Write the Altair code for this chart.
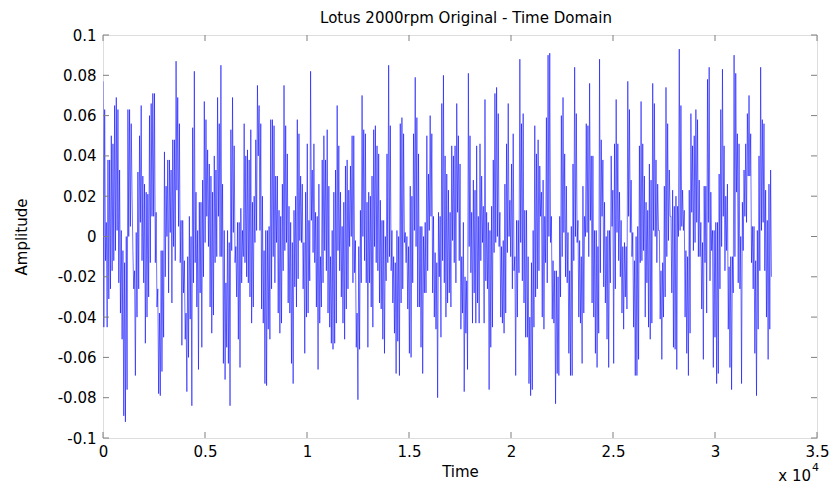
import altair as alt
import pandas as pd
import numpy as np

# Amplitude extremes, stroke by stroke (peak, then trough)
seg1_peaks = [0.077,0.063,0.007,0.038,0.038,0.050,0.046,0.065,0.069,0.063,0.033,0.003,-0.007,-0.013,0.000,0.063,0.063,0.056,-0.007,-0.017,0.002,0.032,0.050,0.065,0.030,0.026,0.022,0.021,0.060,0.066,0.071,0.071,0.012,-0.026,-0.038,-0.007,-0.007,0.042,0.025,0.038,0.038,0.033,0.048,0.048,0.087,0.069,0.056,0.008]
seg1_troughs = [-0.045,-0.012,-0.045,-0.031,-0.026,-0.017,-0.012,-0.007,0.003,-0.023,-0.038,-0.051,-0.089,-0.092,-0.076,0.000,0.005,0.020,-0.026,-0.069,-0.040,-0.026,0.007,-0.012,-0.023,-0.053,-0.040,-0.030,-0.013,0.010,0.010,-0.013,-0.035,-0.078,-0.079,-0.067,-0.050,-0.020,0.000,-0.028,0.002,-0.033,-0.005,-0.012,0.023,0.005,-0.013,-0.054]

seg2_peaks = [0.008,-0.012,-0.038,-0.010,0.010,0.000,0.054,0.082,0.022,0.003,0.017,0.017,0.028,0.067,0.058,0.043,0.036,0.030,0.022,0.040,0.033,0.069,0.056,0.085,0.026,0.003,-0.023,0.003,-0.003,0.053,0.069,0.045,-0.005,0.007,0.007,0.014,0.003,0.056,0.040,0.043,0.038,0.053,0.017,0.020,0.048,0.075,0.065,0.056,0.020,-0.007,0.003,0.003]
seg2_troughs = [-0.028,-0.051,-0.077,-0.060,-0.041,-0.084,-0.023,-0.013,-0.035,-0.066,-0.028,-0.055,-0.020,-0.003,0.010,-0.005,-0.035,-0.048,-0.039,-0.013,-0.010,0.010,-0.010,-0.010,-0.063,-0.071,-0.055,-0.063,-0.084,-0.007,0.002,-0.013,-0.030,-0.051,-0.065,-0.023,-0.010,-0.013,-0.020,-0.023,-0.030,-0.043,-0.035,-0.003,0.003,0.040,0.003,-0.036,-0.043,-0.073,-0.074,-0.046]

seg3_peaks = [0.005,0.058,0.058,0.055,0.030,0.030,0.013,0.010,0.026,0.075,0.055,0.041,0.015,0.007,-0.003,0.013,0.020,0.058,0.051,0.030,0.026,-0.003,0.022,0.046,0.008,0.082,0.033,0.046,0.012,0.010,0.026,-0.010,0.038,0.050,0.038,0.053,0.025,-0.010,0.003,0.022,0.033,0.065,0.045,0.022,0.005,0.017,0.035,0.038,0.023,0.035,0.050]
seg3_troughs = [-0.051,-0.026,-0.010,-0.023,-0.003,-0.038,-0.048,-0.043,-0.017,-0.007,-0.003,-0.033,-0.038,-0.063,-0.073,-0.025,-0.035,-0.021,-0.002,-0.003,-0.026,-0.058,-0.040,-0.038,-0.022,0.008,-0.008,-0.013,-0.035,-0.066,-0.043,-0.035,-0.023,-0.007,-0.017,-0.038,-0.045,-0.053,-0.056,-0.053,-0.043,-0.007,-0.017,-0.030,-0.043,-0.051,-0.036,-0.026,-0.005,0.000,-0.023]

seg4_peaks = [0.050,-0.002,-0.038,-0.005,0.013,0.070,0.053,0.051,0.017,0.022,0.020,0.030,0.053,0.055,0.045,0.041,0.018,0.008,0.008,0.000,0.041,0.085,0.055,0.003,-0.010,-0.013,0.003,0.000,0.056,0.059,0.051,0.002,0.000,-0.005,0.025,0.020,0.051,0.079,0.059,0.041,0.005,0.005,0.000,0.007,0.050,0.031,0.060,0.051,0.010,-0.008,-0.013,0.012]
seg4_troughs = [-0.018,-0.055,-0.081,-0.056,-0.023,0.000,-0.012,-0.023,-0.055,-0.023,-0.035,-0.045,-0.005,-0.013,-0.017,-0.033,-0.036,-0.051,-0.058,-0.022,-0.013,-0.010,-0.017,-0.033,-0.048,-0.068,-0.052,-0.069,-0.033,-0.026,-0.003,-0.013,-0.036,-0.058,-0.060,-0.023,0.003,-0.005,-0.035,-0.035,-0.055,-0.068,-0.028,-0.028,-0.017,0.003,0.010,-0.028,-0.040,-0.046,-0.080,-0.020]

seg5_peaks = [0.010,0.066,0.080,0.040,0.031,0.023,0.012,0.045,0.040,0.045,0.066,0.050,0.036,-0.010,0.007,-0.020,-0.022,0.081,0.050,0.012,0.028,0.023,0.045,0.010,0.046,0.030,0.015,0.068,0.012,0.007,0.003,0.015,0.038,0.071,0.074,0.061,0.012,-0.005,-0.002,0.026,0.046,0.066,0.018,0.036,0.051,-0.010,0.008,0.008,0.088,0.056,0.061,0.013]
seg5_troughs = [-0.050,-0.012,-0.023,-0.040,-0.033,-0.028,-0.035,-0.002,-0.013,-0.023,0.012,-0.012,-0.046,-0.038,-0.077,-0.048,-0.066,-0.005,-0.018,-0.043,-0.028,-0.043,-0.033,-0.043,-0.012,-0.003,-0.043,-0.022,-0.026,-0.076,-0.055,-0.045,-0.008,-0.003,0.000,-0.005,-0.040,-0.043,-0.048,-0.038,-0.008,0.000,-0.010,-0.026,-0.017,-0.069,-0.040,-0.018,-0.003,-0.022,-0.033,-0.050]

seg6_peaks = [0.013,-0.010,-0.040,-0.013,0.003,0.055,0.041,0.048,0.035,0.022,0.028,0.010,0.059,0.090,0.091,0.010,-0.012,-0.017,-0.017,-0.020,0.010,0.060,0.069,0.041,0.025,0.002,-0.017,0.005,0.036,0.084,0.061,0.008,-0.002,-0.010,0.025,0.010,0.056,0.055,0.076,0.040,0.040,0.003,0.003,-0.005,0.088,0.048,0.038,0.017,0.000,0.003,0.003,0.040]
seg6_troughs = [-0.050,-0.073,-0.079,-0.076,-0.045,-0.030,-0.026,-0.017,0.010,-0.040,-0.046,-0.013,-0.023,0.000,-0.003,-0.041,-0.043,-0.083,-0.068,-0.069,-0.030,-0.010,0.002,-0.020,-0.023,-0.058,-0.069,-0.069,-0.012,0.000,-0.003,-0.040,-0.043,-0.063,-0.038,0.000,0.002,-0.010,0.008,-0.033,-0.040,-0.058,-0.065,-0.048,-0.018,0.010,-0.025,-0.033,-0.051,-0.065,-0.023,0.005]

seg7_peaks = [0.023,0.046,0.068,0.046,0.022,0.008,-0.005,-0.003,-0.005,0.077,0.063,0.028,0.002,-0.012,0.000,0.005,0.045,0.067,0.046,0.030,0.017,0.013,0.036,0.028,0.076,0.066,0.038,0.026,0.003,-0.017,-0.013,0.025,0.074,0.056,0.033,0.010,0.023,0.015,0.020,0.015,0.093,0.065,0.023,0.013,-0.007,-0.010,0.023,0.061,0.045,0.050,0.063,0.058]
seg7_troughs = [-0.063,-0.026,0.002,-0.012,-0.020,-0.038,-0.046,-0.030,-0.036,0.010,0.002,-0.010,-0.045,-0.069,-0.069,-0.061,-0.013,-0.012,-0.007,-0.040,-0.023,-0.045,-0.051,-0.043,0.003,0.000,-0.013,0.003,-0.041,-0.061,-0.040,-0.030,-0.010,-0.002,0.010,-0.028,-0.055,-0.056,-0.066,0.000,0.003,0.005,0.003,-0.040,-0.058,-0.069,-0.048,0.012,-0.007,-0.003,0.007,-0.010]

seg8_peaks = [0.028,0.007,-0.003,0.025,0.025,0.078,0.084,0.022,0.003,0.003,0.007,0.007,0.031,0.063,0.083,0.045,0.020,0.026,-0.015,-0.010,-0.010,0.090,0.081,0.051,0.046,0.000,0.017,0.033,0.046,0.061,0.070,0.051,0.005,0.005,-0.012,0.003,0.040,0.084,0.058,0.056,0.023,0.008,0.026,0.033]
seg8_troughs = [-0.010,-0.036,-0.061,-0.013,-0.038,0.007,-0.022,-0.007,-0.065,-0.050,-0.073,-0.068,-0.026,-0.005,0.010,-0.017,-0.007,-0.046,-0.065,-0.076,-0.028,-0.010,0.022,-0.023,-0.026,-0.073,-0.007,0.010,0.007,0.030,0.030,-0.013,-0.026,-0.058,-0.079,-0.046,-0.017,0.003,0.007,-0.017,-0.040,-0.061,-0.046,-0.020]

x_ticks = [0, 5000, 10000, 15000, 20000, 25000, 30000, 35000]
y_ticks = [-0.1, -0.08, -0.06, -0.04, -0.02, 0, 0.02, 0.04, 0.06, 0.08, 0.1]
last_sample = 32767

segments = [(seg1_peaks, seg1_troughs), (seg2_peaks, seg2_troughs),
            (seg3_peaks, seg3_troughs), (seg4_peaks, seg4_troughs),
            (seg5_peaks, seg5_troughs), (seg6_peaks, seg6_troughs),
            (seg7_peaks, seg7_troughs), (seg8_peaks, seg8_troughs)]
amp = []
for pk, tr in segments:
    for a, b in zip(pk, tr):
        amp += [a, b]
time = np.linspace(0, last_sample, len(amp))
df = pd.DataFrame({"time": time, "amp": amp})

FONT = "DejaVu Sans"
GRAY = "#7f7f7f"
W, H = 714, 403

xscale = alt.Scale(domain=[0, 35000], nice=False, zero=False)
yscale = alt.Scale(domain=[-0.1, 0.1], nice=False, zero=False)

x_axis = alt.Axis(values=x_ticks, labelExpr="datum.value / 10000",
                  ticks=False, domain=False, grid=False,
                  labelFont=FONT, labelFontSize=15, labelColor="black",
                  labelPadding=6, labelFlush=False,
                  title="Time", titleFont=FONT, titleFontSize=15,
                  titleFontWeight="normal", titleColor="black",
                  titleY=33, titleBaseline="middle")
y_axis = alt.Axis(values=y_ticks, labelExpr="'' + datum.value",
                  ticks=False, domain=False, grid=False,
                  labelFont=FONT, labelFontSize=15, labelColor="black",
                  labelPadding=7, labelFlush=False,
                  title="Amplitude", titleFont=FONT, titleFontSize=15,
                  titleFontWeight="normal", titleColor="black",
                  titleX=-82, titleY=H / 2, titleAngle=-90,
                  titleAlign="center", titleBaseline="middle")

line = alt.Chart(df).mark_line(color="#0000ff", strokeWidth=0.7, opacity=0.8, clip=True).encode(
    x=alt.X("time:Q", scale=xscale, axis=x_axis, title="Time"),
    y=alt.Y("amp:Q", scale=yscale, axis=y_axis, title="Amplitude"),
)

xt = pd.DataFrame({"time": x_ticks})
yt = pd.DataFrame({"amp": y_ticks})
tick_len = 6
bottom_ticks = alt.Chart(xt).mark_rule(color=GRAY, strokeWidth=1).encode(
    x=alt.X("time:Q", scale=xscale, title="Time"), y=alt.value(H), y2=alt.value(H - tick_len))
top_ticks = alt.Chart(xt).mark_rule(color=GRAY, strokeWidth=1).encode(
    x=alt.X("time:Q", scale=xscale, title="Time"), y=alt.value(0), y2=alt.value(tick_len))
left_ticks = alt.Chart(yt).mark_rule(color=GRAY, strokeWidth=1).encode(
    y=alt.Y("amp:Q", scale=yscale, title="Amplitude"), x=alt.value(0), x2=alt.value(tick_len))
right_ticks = alt.Chart(yt).mark_rule(color=GRAY, strokeWidth=1).encode(
    y=alt.Y("amp:Q", scale=yscale, title="Amplitude"), x=alt.value(W), x2=alt.value(W - tick_len))

exp_df = pd.DataFrame({"base": ["x 10"], "exp": ["4"]})
exp_base = alt.Chart(exp_df).mark_text(font=FONT, fontSize=15, align="right",
                                       baseline="middle", color="black").encode(
    text="base:N", x=alt.value(W - 6), y=alt.value(H + 38))
exp_sup = alt.Chart(exp_df).mark_text(font=FONT, fontSize=11, align="left",
                                      baseline="middle", color="black").encode(
    text="exp:N", x=alt.value(W - 5), y=alt.value(H + 30))

chart = alt.layer(line, bottom_ticks, top_ticks, left_ticks, right_ticks,
                  exp_base, exp_sup).properties(
    width=W, height=H,
    title=alt.TitleParams("Lotus 2000rpm Original - Time Domain", font=FONT,
                          fontSize=15, fontWeight="normal", color="black",
                          anchor="middle", offset=2, dx=6),
    autosize=alt.AutoSizeParams(type="none"),
    padding={"left": 103, "top": 35, "right": 17, "bottom": 50},
).configure_view(stroke=GRAY, strokeWidth=1).configure(background="white")

chart.save("out.html", embed_options={"renderer": "svg", "actions": False})
